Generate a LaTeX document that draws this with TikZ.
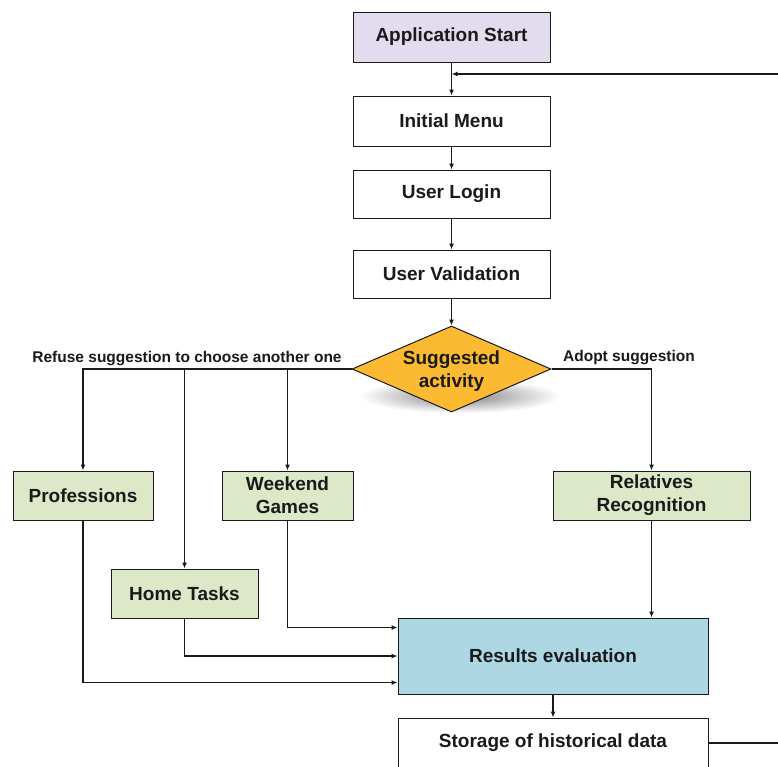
\documentclass[tikz,border=0pt]{standalone}
\usepackage{fontspec}
\setmainfont{Liberation Sans}
\usetikzlibrary{shapes.geometric,arrows.meta,fadings}
\definecolor{startfill}{HTML}{E2DCEE}
\definecolor{greenfill}{HTML}{DDE8C9}
\definecolor{bluefill}{HTML}{ADD8E3}
\definecolor{decfill}{HTML}{FBBA31}
\definecolor{ink}{HTML}{1A1A1A}
\tikzfading[name=softshadow, inner color=transparent!0, outer color=transparent!100]
\begin{document}
\begin{tikzpicture}[x=1pt,y=-1pt,
  box/.style={draw=ink, line width=1pt, rectangle, inner sep=0pt, align=center,
    font=\fontsize{19}{23}\selectfont\bfseries, text=ink},
  wbox/.style={box, fill=white},
  gbox/.style={box, fill=greenfill},
  conn/.style={draw=ink, line width=1.8pt},
  arr/.style={conn, -{Latex[length=6pt,width=5pt]}},
  lbl/.style={font=\fontsize{15.5}{18}\selectfont\bfseries, text=ink, inner sep=0pt}
]
\clip (0,0) rectangle (778,766);
\fill[white] (0,0) rectangle (778,766);

\node[box, fill=startfill, minimum width=197pt, minimum height=50pt] (start) at (451.5,37) {Application Start};
\node[wbox, minimum width=197pt, minimum height=50pt] (menu) at (451.5,121) {Initial Menu};
\node[wbox, minimum width=197pt, minimum height=48pt] (login) at (451.5,194) {User Login};
\node[wbox, minimum width=197pt, minimum height=48pt] (valid) at (451.5,274) {User Validation};

% shadow of the decision
\fill[black!50, path fading=softshadow] (460,396) ellipse [x radius=100pt, y radius=17pt];
\node[diamond, draw=ink, line width=1pt, fill=decfill, minimum width=199pt, minimum height=86pt, inner sep=0pt] (dec) at (451.5,369) {};
\node[font=\fontsize{19}{23}\selectfont\bfseries, text=ink, align=center, inner sep=0pt] (dectext) at ([yshift=-2pt]dec.center) {Suggested\\activity};

\node[gbox, minimum width=140pt, minimum height=49pt] (prof) at (83,495.5) {Professions};
\node[gbox, minimum width=131pt, minimum height=49pt] (week) at (287.5,495.5) {Weekend\\Games};
\node[gbox, minimum width=197pt, minimum height=49pt] (rel) at (651.5,495.5) {Relatives\\Recognition};
\node[gbox, minimum width=147pt, minimum height=49pt] (home) at (184.5,593.5) {Home Tasks};
\node[box, fill=bluefill, minimum width=310pt, minimum height=76pt] (res) at (553,656) {Results evaluation};
\node[wbox, minimum width=310pt, minimum height=50pt] (stor) at (553,743) {Storage of historical data};

\node[lbl, anchor=base] (refuse) at (187,362) {Refuse suggestion to choose another one};
\node[lbl, anchor=base] (adopt) at (629,361) {Adopt suggestion};

\coordinate (edgeB) at (778,743);
\coordinate (edgeT) at (778,74);

\draw[arr] (start) -- (menu);
\draw[arr] (menu) -- (login);
\draw[arr] (login) -- (valid);
\draw[arr] (valid) -- (dec);
\draw[arr] (dec.west) -| (prof.north);
\draw[arr] (dec.west) -| (home.north);
\draw[arr] (dec.west) -| (week.north);
\draw[arr] (dec.east) -| (rel.north);
\draw[arr] (rel.south) -- (rel.south |- res.north);
\draw[arr] (week.south) |- ([yshift=-10pt]res.north west);
\draw[arr] (home.south) |- (res.west);
\draw[arr] (prof.south) |- ([yshift=12pt]res.south west);
\draw[arr] (res) -- (stor);
\draw[conn] (stor.east) -- (edgeB);
\draw[arr] (edgeT) -- (edgeT -| start.south);
\end{tikzpicture}
\end{document}
